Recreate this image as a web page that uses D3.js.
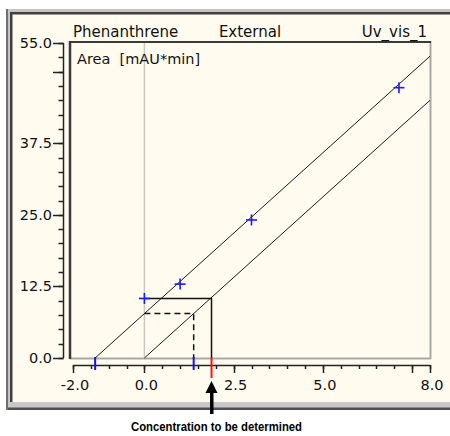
<!DOCTYPE html>
<html><head><meta charset="utf-8">
<script src="https://cdn.jsdelivr.net/npm/d3@7"></script>
<style>html,body{margin:0;padding:0;background:#fff;}svg{display:block;}</style>
</head><body>
<script>
// ---- data ----
const xDomain = [-2, 8];
const yDomain = [0, 55];
const xTickLabels = ["-2.0", "0.0", "2.5", "5.0", "8.0"];
const xTickLabelValues = [-2, 0, 2.5, 5, 8];
const xMajorTicks = [-2, 0, 2.5, 5, 7.5, 8];
const yTickLabels = ["0.0", "12.5", "25.0", "37.5", "55.0"];
const yTickLabelValues = [0, 12.5, 25, 37.5, 55];
const yMajorTicks = [0, 12.5, 25, 37.5, 50, 55];
const calConc = [1.0, 3.0, 7.13];          // standard-addition points
const calArea = [12.9, 24.1, 47.2];
const sampleConc = [0];
const sampleArea = [10.4];
const upperLineX = [-1.38, 8];
const upperLineY = [0, 52.7];
const lowerLineX = [0, 8];
const lowerLineY = [0, 45.0];
const interceptArea = 7.76;   // upper line at x=0
const interceptConc = 1.38;   // |x-intercept|
const resultConc = 1.88;      // concentration to be determined
const titleLeft = "Phenanthrene", titleMid = "External", titleRight = "Uv_vis_1";
const yUnit = "Area  [mAU*min]";
const caption = "Concentration to be determined";

// ---- layout ----
const W = 450, H = 436;
const svg = d3.select("body").append("svg").attr("width", W).attr("height", H);
const x = d3.scaleLinear().domain(xDomain).range([73, 430]);
const y = d3.scaleLinear().domain(yDomain).range([358, 43]);
const font = "DejaVu Sans, Verdana, sans-serif";

// window frame
svg.append("rect").attr("x", 6).attr("y", 9).attr("width", 460).attr("height", 401).attr("fill", "#c4c4c4");
svg.append("rect").attr("x", 10).attr("y", 12).attr("width", 460).attr("height", 393).attr("fill", "#404040");
svg.append("rect").attr("x", 12.5).attr("y", 14.5).attr("width", 460).attr("height", 387.5).attr("fill", "#fffcef");
svg.append("rect").attr("x", 6).attr("y", 402).attr("width", 460).attr("height", 6).attr("fill", "#c8c8c8");
svg.append("rect").attr("x", 6).attr("y", 407.5).attr("width", 460).attr("height", 2.5).attr("fill", "#505050");
svg.append("rect").attr("x", 6).attr("y", 9).attr("width", 2).attr("height", 401).attr("fill", "#707070");

// plot frame
svg.append("line").attr("x1", 70).attr("x2", 431).attr("y1", 358.5).attr("y2", 358.5).attr("stroke", "#a8a8a8").attr("stroke-width", 2);
svg.append("line").attr("x1", 430.5).attr("x2", 430.5).attr("y1", 41).attr("y2", 359).attr("stroke", "#a8a8a8").attr("stroke-width", 2);
svg.append("line").attr("x1", 69).attr("x2", 431).attr("y1", 42).attr("y2", 42).attr("stroke", "#3a3a3a").attr("stroke-width", 2);
svg.append("line").attr("x1", 70).attr("x2", 70).attr("y1", 41).attr("y2", 359).attr("stroke", "#3a3a3a").attr("stroke-width", 2.5);

// zero line
svg.append("line").attr("x1", x(0)).attr("x2", x(0)).attr("y1", 43).attr("y2", 357)
  .attr("stroke", "#c8c8c8").attr("stroke-width", 1.5);

// titles
svg.append("text").attr("x", 73).attr("y", 37).attr("font-family", font).attr("font-size", 15).attr("fill", "#111").text(titleLeft);
svg.append("text").attr("x", 250).attr("y", 37).attr("text-anchor", "middle").attr("font-family", font).attr("font-size", 15).attr("fill", "#111").text(titleMid);
svg.append("text").attr("x", 427).attr("y", 37).attr("text-anchor", "end").attr("font-family", font).attr("font-size", 15).attr("fill", "#111").text(titleRight);
svg.append("text").attr("x", 77).attr("y", 64).attr("font-family", font).attr("font-size", 14.5).attr("fill", "#111")
  .style("white-space", "pre").text(yUnit);

// y axis
const yMinor = d3.range(0, 55.01, 2.5);
const gy = svg.append("g");
gy.append("line").attr("x1", 63.5).attr("x2", 63.5).attr("y1", y(55)).attr("y2", y(0)).attr("stroke", "#222").attr("stroke-width", 1.5);
gy.selectAll(".ymin").data(yMinor).join("line").attr("x1", 58.5).attr("x2", 63.5)
  .attr("y1", d => Math.round(y(d)) + 0.5).attr("y2", d => Math.round(y(d)) + 0.5).attr("stroke", "#222").attr("stroke-width", 1.5);
gy.selectAll(".ymaj").data(yMajorTicks).join("line").attr("x1", 53).attr("x2", 63.5)
  .attr("y1", d => Math.round(y(d)) + 0.5).attr("y2", d => Math.round(y(d)) + 0.5).attr("stroke", "#222").attr("stroke-width", 1.5);
gy.selectAll("text").data(yTickLabelValues).join("text").attr("x", 52).attr("y", d => y(d) + 5)
  .attr("text-anchor", "end").attr("font-family", font).attr("font-size", 14.5).attr("fill", "#111")
  .text((d, i) => yTickLabels[i]);

// x axis
const xMinor = d3.range(-2, 8.01, 0.5);
const gx = svg.append("g");
gx.append("line").attr("x1", x(-2)).attr("x2", x(8)).attr("y1", 365.5).attr("y2", 365.5).attr("stroke", "#222").attr("stroke-width", 1.5);
gx.selectAll(".xmin").data(xMinor).join("line").attr("y1", 365).attr("y2", 369)
  .attr("x1", d => Math.round(x(d)) + 0.5).attr("x2", d => Math.round(x(d)) + 0.5).attr("stroke", "#222").attr("stroke-width", 1.5);
gx.selectAll(".xmaj").data(xMajorTicks).join("line").attr("y1", 365).attr("y2", 373)
  .attr("x1", d => Math.round(x(d)) + 0.5).attr("x2", d => Math.round(x(d)) + 0.5).attr("stroke", "#222").attr("stroke-width", 1.5);
gx.selectAll("text").data(xTickLabelValues).join("text").attr("x", d => x(d) + 2).attr("y", 390)
  .attr("text-anchor", "middle").attr("font-family", font).attr("font-size", 14.5).attr("fill", "#111")
  .text((d, i) => xTickLabels[i]);

// regression lines
const line = d3.line().x(d => x(d[0])).y(d => y(d[1]));
const upper = upperLineX.map((v, i) => [v, upperLineY[i]]);
const lower = lowerLineX.map((v, i) => [v, lowerLineY[i]]);
svg.append("path").attr("d", line(upper)).attr("fill", "none").attr("stroke", "#1a1a1a").attr("stroke-width", 1);
svg.append("path").attr("d", line(lower)).attr("fill", "none").attr("stroke", "#1a1a1a").attr("stroke-width", 1);

// dashed construction
svg.append("path").attr("d", line([[0, interceptArea], [interceptConc, interceptArea], [interceptConc, 0]]))
  .attr("fill", "none").attr("stroke", "#111").attr("stroke-width", 1.5).attr("stroke-dasharray", "6,4");
// solid construction
svg.append("path").attr("d", line([[0, sampleArea[0]], [resultConc, sampleArea[0]], [resultConc, 0]]))
  .attr("fill", "none").attr("stroke", "#111").attr("stroke-width", 1.5);

// coloured axis marks
[-interceptConc, interceptConc].forEach(c => {
  svg.append("line").attr("x1", x(c)).attr("x2", x(c)).attr("y1", 357).attr("y2", 370)
    .attr("stroke", "#1010ff").attr("stroke-width", 2);
});
svg.append("line").attr("x1", x(resultConc)).attr("x2", x(resultConc)).attr("y1", 357.5).attr("y2", 378)
  .attr("stroke", "#ff1010").attr("stroke-width", 2);

// markers
const pts = calConc.map((c, i) => [c, calArea[i]]).concat(sampleConc.map((c, i) => [c, sampleArea[i]]));
const plus = svg.append("g").selectAll("g").data(pts).join("g")
  .attr("transform", d => `translate(${x(d[0])},${y(d[1])})`);
plus.append("line").attr("x1", -5.5).attr("x2", 5.5).attr("stroke", "#1a1aff").attr("stroke-width", 1.6);
plus.append("line").attr("y1", -5.5).attr("y2", 5.5).attr("stroke", "#1a1aff").attr("stroke-width", 1.6);

// arrow
const ax = x(resultConc);
svg.append("rect").attr("x", ax - 1.5).attr("y", 390).attr("width", 3.5).attr("height", 24).attr("fill", "#000");
svg.append("path").attr("d", `M${ax},381 L${ax + 6},393 L${ax - 6},393 Z`).attr("fill", "#000");

// caption
svg.append("text").attr("x", 131).attr("y", 431)
  .attr("font-family", "Liberation Sans, Arial, sans-serif").attr("font-weight", "bold").attr("font-size", 13)
  .attr("textLength", 171).attr("lengthAdjust", "spacingAndGlyphs")
  .attr("fill", "#000").text(caption);
</script>
</body></html>
